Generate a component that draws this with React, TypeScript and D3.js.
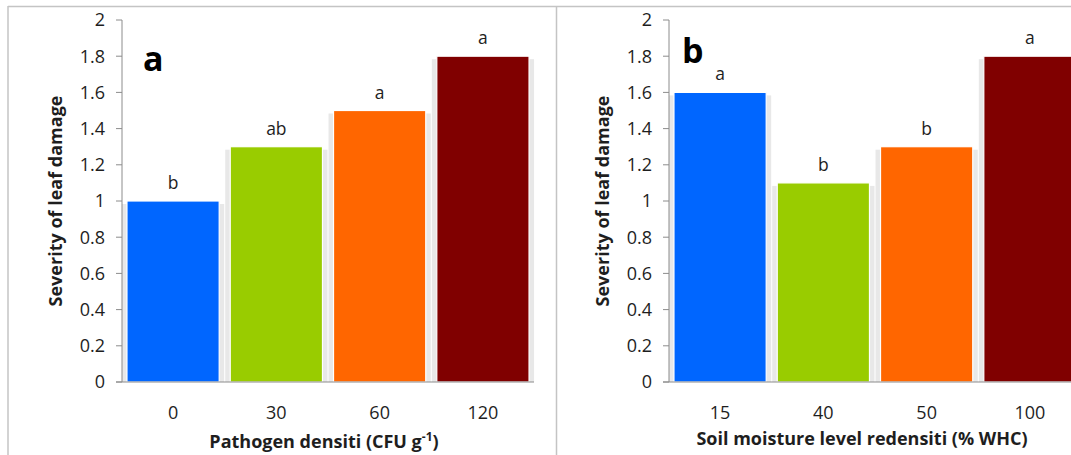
import React from 'react'
import * as d3 from 'd3'

// ---- data ----
const categoriesA = ['0', '30', '60', '120']
const valuesA = [1.0, 1.3, 1.5, 1.8]
const lettersA = ['b', 'ab', 'a', 'a']

const categoriesB = ['15', '40', '50', '100']
const valuesB = [1.6, 1.1, 1.3, 1.8]
const lettersB = ['a', 'b', 'b', 'a']

const yTicks = [0, 0.2, 0.4, 0.6, 0.8, 1, 1.2, 1.4, 1.6, 1.8, 2]
const barColors = ['#0066ff', '#99cc00', '#ff6600', '#800000']

const W = 1071
const H = 455
const FONT = '"Open Sans", "DejaVu Sans", sans-serif'
const TXT = '#1e1e1e'
const AXIS = '#8c8c8c'

const y = d3.scaleLinear().domain([0, 2]).range([382, 20])

type PanelProps = {
  axisX: number
  cats: string[]
  vals: number[]
  letters: string[]
  tag: string
  tagX: number
  tagY: number
  yTitleX: number
  xTitleX: number
  xTitleY: number
  xTitle: React.ReactNode
}

function Panel({ axisX, cats, vals, letters, tag, tagX, tagY, yTitleX, xTitleX, xTitleY, xTitle }: PanelProps) {
  const x = d3.scaleBand<string>().domain(cats).range([axisX, axisX + 412]).paddingInner(0.107).paddingOuter(0.048)
  const bw = x.bandwidth()
  const y0 = y(0)
  return (
    <g>
      {/* light gray halo behind each bar (Excel-style shadow) */}
      {cats.map((c, i) => (
        <rect key={'h' + c} x={x(c)! - 5} y={y(vals[i]) + 3} width={bw + 10} height={y0 - y(vals[i]) - 3} fill="#e8e8e8" />
      ))}
      {cats.map((c, i) => (
        <rect key={'b' + c} x={x(c)!} y={y(vals[i])} width={bw} height={y0 - y(vals[i])}
          fill={barColors[i]} stroke="#fff" strokeWidth={1.2} />
      ))}

      {/* y axis */}
      <line x1={axisX} x2={axisX} y1={y(2)} y2={y0} stroke={AXIS} strokeWidth={1} />
      {yTicks.map(t => (
        <g key={t}>
          <line x1={axisX - 6} x2={axisX} y1={y(t)} y2={y(t)} stroke={AXIS} />
          <text x={axisX - 17} y={y(t)} dy="0.36em" textAnchor="end" fontSize={18} fill={TXT} fontFamily={FONT}>
            {d3.format('~g')(t)}
          </text>
        </g>
      ))}
      {/* x axis */}
      <line x1={axisX - 6} x2={axisX + 412} y1={y0} y2={y0} stroke={AXIS} strokeWidth={1} />
      {cats.map(c => (
        <text key={'t' + c} x={x(c)! + bw / 2} y={419} textAnchor="middle" fontSize={18} fill={TXT} fontFamily={FONT}>{c}</text>
      ))}

      {/* significance letters */}
      {cats.map((c, i) => (
        <text key={'l' + c} x={x(c)! + bw / 2} y={y(vals[i]) - 12} textAnchor="middle" fontSize={17.5} fill={TXT} fontFamily={FONT}>
          {letters[i]}
        </text>
      ))}

      <text x={tagX} y={tagY} fontSize={34} fontWeight="bold" fill="#000" fontFamily={FONT}>{tag}</text>

      <text transform={`translate(${yTitleX},${(y(0) + y(2)) / 2}) rotate(-90)`} textAnchor="middle"
        fontSize={18} fontWeight="bold" fill={TXT} fontFamily={FONT}>Severity of leaf damage</text>

      <text x={xTitleX} y={xTitleY} textAnchor="middle" fontSize={18} fontWeight="bold" fill={TXT} fontFamily={FONT}>
        {xTitle}
      </text>
    </g>
  )
}

export default function App() {
  if (typeof document !== 'undefined') document.body.style.margin = '0'
  return (
    <svg width={W} height={H} style={{ display: 'block', background: '#fff' }}>
      {/* panel frames */}
      <line x1={8} x2={W} y1={6.5} y2={6.5} stroke="#c4c4c4" strokeWidth={1.5} />
      <line x1={8} x2={8} y1={6} y2={H} stroke="#c4c4c4" strokeWidth={1.5} />
      <line x1={556.5} x2={556.5} y1={6} y2={H} stroke="#c4c4c4" strokeWidth={1.5} />

      <Panel axisX={122} cats={categoriesA} vals={valuesA} letters={lettersA}
        tag="a" tagX={143} tagY={71} yTitleX={62} xTitleX={324} xTitleY={448}
        xTitle={<>Pathogen densiti (CFU g<tspan fontSize={12} dy={-7}>-1</tspan><tspan dy={7}>)</tspan></>} />

      <Panel axisX={669} cats={categoriesB} vals={valuesB} letters={lettersB}
        tag="b" tagX={682} tagY={63} yTitleX={609} xTitleX={862} xTitleY={445}
        xTitle="Soil moisture level redensiti (% WHC)" />
    </svg>
  )
}
